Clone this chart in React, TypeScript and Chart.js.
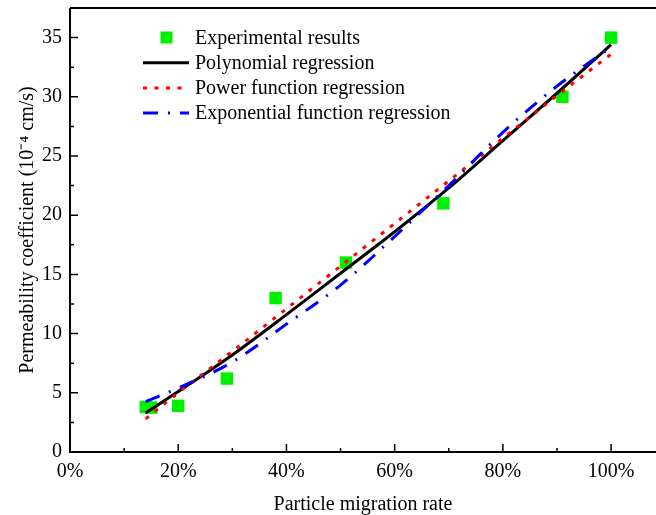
import React, { useEffect, useRef } from 'react';
import { Chart, registerables } from 'chart.js';

Chart.register(...registerables);

// Experimental data (particle migration rate as fraction, permeability in 1e-4 cm/s)
const experimentalRate = [0.14, 0.15, 0.20, 0.29, 0.38, 0.51, 0.69, 0.91, 1.0];
const experimentalK = [3.8, 3.75, 3.9, 6.2, 13.0, 16.0, 21.0, 30.0, 35.0];

// Fitted curves
const fitRate = [0.14, 0.2, 0.3, 0.4, 0.5, 0.6, 0.7, 0.8, 0.9, 1.0];
const polynomialK = [3.3, 5.1, 8.2, 11.6, 15.1, 18.6, 22.3, 26.3, 30.3, 34.4];
const powerK = [2.8, 5.0, 8.5, 12.1, 15.7, 19.3, 22.9, 26.5, 30.1, 33.6];
const exponentialK = [4.25, 5.4, 7.6, 10.8, 14.1, 18.2, 22.5, 27.0, 30.9, 34.2];

const seriesLabels = [
  'Experimental results',
  'Polynomial regression',
  'Power function regression',
  'Exponential function regression',
];

const xAxisTitle = 'Particle migration rate';
const yAxisTitle = 'Permeability coefficient (10\u207B\u2074 cm/s)';

const FONT = "'Liberation Serif', 'Times New Roman', serif";

export default function App() {
  const ref = useRef<HTMLCanvasElement>(null);

  useEffect(() => {
    const canvas = ref.current;
    if (!canvas) return;

    const toXY = (xs: number[], ys: number[]) => xs.map((x, i) => ({ x, y: ys[i] }));

    const frame = {
      id: 'frameAndLegend',
      afterDraw(chart: any) {
        const { ctx, chartArea: a, scales } = chart;
        const xs = scales.x;
        const ys = scales.y;
        ctx.save();
        ctx.strokeStyle = '#000';
        ctx.lineWidth = 2;
        ctx.lineCap = 'butt';
        ctx.beginPath();
        ctx.moveTo(a.left, a.top);
        ctx.lineTo(a.right, a.top);
        ctx.moveTo(a.left, a.top);
        ctx.lineTo(a.left, a.bottom);
        ctx.lineTo(a.right, a.bottom);
        ctx.stroke();

        ctx.lineWidth = 1.5;
        ctx.beginPath();
        const xt = xs.ticks.map((t: any) => t.value);
        xt.forEach((v: number) => {
          const px = xs.getPixelForValue(v);
          ctx.moveTo(px, a.bottom);
          ctx.lineTo(px, a.bottom - 8);
          const mid = v + (xs.options.ticks.stepSize as number) / 2;
          if (mid < xs.max) {
            const pm = xs.getPixelForValue(mid);
            ctx.moveTo(pm, a.bottom);
            ctx.lineTo(pm, a.bottom - 4);
          }
        });
        const yt = ys.ticks.map((t: any) => t.value);
        yt.forEach((v: number) => {
          const py = ys.getPixelForValue(v);
          ctx.moveTo(a.left, py);
          ctx.lineTo(a.left + 8, py);
          const mid = v + (ys.options.ticks.stepSize as number) / 2;
          if (mid < ys.max) {
            const pm = ys.getPixelForValue(mid);
            ctx.moveTo(a.left, pm);
            ctx.lineTo(a.left + 4, pm);
          }
        });
        ctx.stroke();

        // legend
        const rowY0 = 37.5;
        const rowGap = 25.2;
        const lineX0 = 143;
        const lineX1 = 189;
        const textX = 195;
        const ds = chart.data.datasets;
        ctx.font = `20px ${FONT}`;
        ctx.textBaseline = 'middle';
        ctx.textAlign = 'left';
        seriesLabels.forEach((label, i) => {
          const y = rowY0 + i * rowGap;
          const d = ds[i];
          if (i === 0) {
            ctx.fillStyle = d.backgroundColor;
            ctx.fillRect(166.5 - 6, y - 6, 12, 12);
          } else {
            ctx.save();
            ctx.strokeStyle = d.borderColor;
            ctx.lineWidth = d.borderWidth;
            ctx.setLineDash(d.borderDash || []);
            ctx.beginPath();
            ctx.moveTo(lineX0, y);
            ctx.lineTo(lineX1, y);
            ctx.stroke();
            ctx.restore();
          }
          ctx.fillStyle = '#000';
          ctx.fillText(label, textX, y + 1);
        });
        ctx.restore();
      },
    };

    const chart = new Chart(canvas, {
      type: 'scatter',
      data: {
        datasets: [
          {
            label: seriesLabels[0],
            data: toXY(experimentalRate, experimentalK),
            backgroundColor: '#00f000',
            borderWidth: 0,
            pointStyle: 'rect',
            pointRadius: 8.8,
            showLine: false,
            order: 4,
          },
          {
            label: seriesLabels[1],
            data: toXY(fitRate, polynomialK),
            showLine: true,
            borderColor: '#000000',
            borderWidth: 3,
            pointRadius: 0,
            cubicInterpolationMode: 'monotone',
            order: 3,
          },
          {
            label: seriesLabels[2],
            data: toXY(fitRate, powerK),
            showLine: true,
            borderColor: '#ff0000',
            borderWidth: 3,
            borderDash: [4, 7.5],
            pointRadius: 0,
            cubicInterpolationMode: 'monotone',
            order: 2,
          },
          {
            label: seriesLabels[3],
            data: toXY(fitRate, exponentialK),
            showLine: true,
            borderColor: '#0000ff',
            borderWidth: 3,
            borderDash: [15, 10, 2, 10],
            pointRadius: 0,
            cubicInterpolationMode: 'monotone',
            order: 1,
          },
        ],
      } as any,
      options: {
        animation: false,
        responsive: false,
        maintainAspectRatio: false,
        layout: { autoPadding: false, padding: { top: 8, right: 0, left: 0, bottom: 0 } },
        plugins: {
          legend: { display: false },
          tooltip: { enabled: false },
        },
        scales: {
          x: {
            type: 'linear',
            min: 0,
            max: 1.083,
            ticks: {
              stepSize: 0.2,
              includeBounds: false,
              autoSkip: false,
              maxRotation: 0,
              padding: 8,
              color: '#000',
              font: { family: FONT, size: 20 },
              callback: (v: any) => `${Math.round(Number(v) * 100)}%`,
            },
            grid: { display: false, drawTicks: false },
            border: { display: false },
            title: {
              display: true,
              text: xAxisTitle,
              color: '#000',
              font: { family: FONT, size: 20 },
              padding: { top: 0, bottom: -2 },
            },
            afterFit: (s: any) => {
              s.height = 63;
              s.paddingLeft = 0;
              s.paddingRight = 0;
            },
          },
          y: {
            type: 'linear',
            min: 0,
            max: 37.5,
            ticks: {
              stepSize: 5,
              includeBounds: false,
              autoSkip: false,
              padding: 8,
              color: '#000',
              font: { family: FONT, size: 20 },
            },
            grid: { display: false, drawTicks: false },
            border: { display: false },
            title: {
              display: true,
              text: yAxisTitle,
              color: '#000',
              font: { family: FONT, size: 20 },
              padding: { top: 16, bottom: 0 },
            },
            afterFit: (s: any) => {
              s.width = 70;
              s.paddingTop = 0;
              s.paddingBottom = 0;
            },
          },
        },
      } as any,
      plugins: [frame],
    });

    return () => chart.destroy();
  }, []);

  return (
    <div style={{ position: 'fixed', left: 0, top: 0, width: 656, height: 515, background: '#fff' }}>
      <canvas ref={ref} width={656} height={515} style={{ display: 'block' }} />
    </div>
  );
}
